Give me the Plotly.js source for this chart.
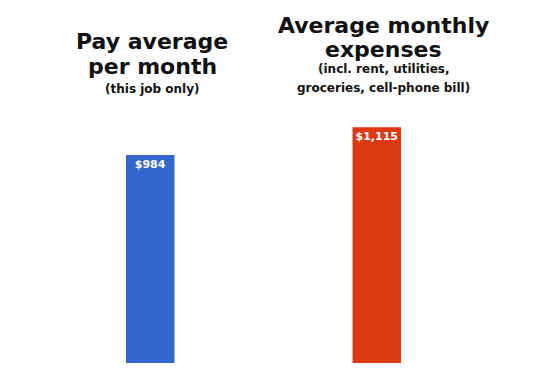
<!DOCTYPE html>
<html><head><meta charset="utf-8">
<script src="https://cdn.plot.ly/plotly-3.0.1.min.js"></script>
<style>html,body{margin:0;padding:0;background:#fff}</style>
</head><body>
<div id="chart" style="width:560px;height:373px"></div>
<script>
const categories = [0, 1];
const values = [984, 1115];
const valueLabels = ['$984', '$1,115'];
const barColors = ['#3366cc', '#dc3912'];
const leftTitle = ['Pay average', 'per month'];
const leftSub = ['(this job only)'];
const rightTitle = ['Average monthly', 'expenses'];
const rightSub = ['(incl. rent, utilities,', 'groceries, cell-phone bill)'];

const F = 'DejaVu Sans, sans-serif';
const H = 363;
function py(px){ return 1 - px / H; }
function line(text, xp, ypx, size){
  return {text: text, xref:'paper', yref:'paper', x: xp, y: py(ypx),
    xanchor:'center', yanchor:'middle', showarrow:false,
    font:{family:F, size:size, color:'#111', weight:'bold'}};
}
const annotations = [
  line(leftTitle[0], 0.254, 41.5, 22),
  line(leftTitle[1], 0.254, 66.5, 22),
  line(leftSub[0], 0.254, 89, 12),
  line(rightTitle[0], 0.766, 25, 22),
  line(rightTitle[1], 0.766, 49, 22),
  line(rightSub[0], 0.766, 69, 12),
  line(rightSub[1], 0.766, 88.5, 12)
];

const trace = {
  type:'bar', x: categories, y: values, width: 0.214,
  marker:{color: barColors, line:{width:0}},
  text: valueLabels, textposition:'inside', insidetextanchor:'end',
  constraintext:'none', textangle: 0,
  textfont:{family:F, size:11, color:'#fff', weight:'bold'},
  hoverinfo:'none'
};
const layout = {
  width:560, height:373,
  margin:{l:37, r:70, t:0, b:10},
  paper_bgcolor:'#fff', plot_bgcolor:'#fff',
  showlegend:false,
  xaxis:{range:[-0.5, 1.5], visible:false, fixedrange:true},
  yaxis:{range:[0, 1717], visible:false, fixedrange:true},
  annotations: annotations
};
Plotly.newPlot('chart', [trace], layout, {displayModeBar:false, staticPlot:true});
</script>
</body></html>
